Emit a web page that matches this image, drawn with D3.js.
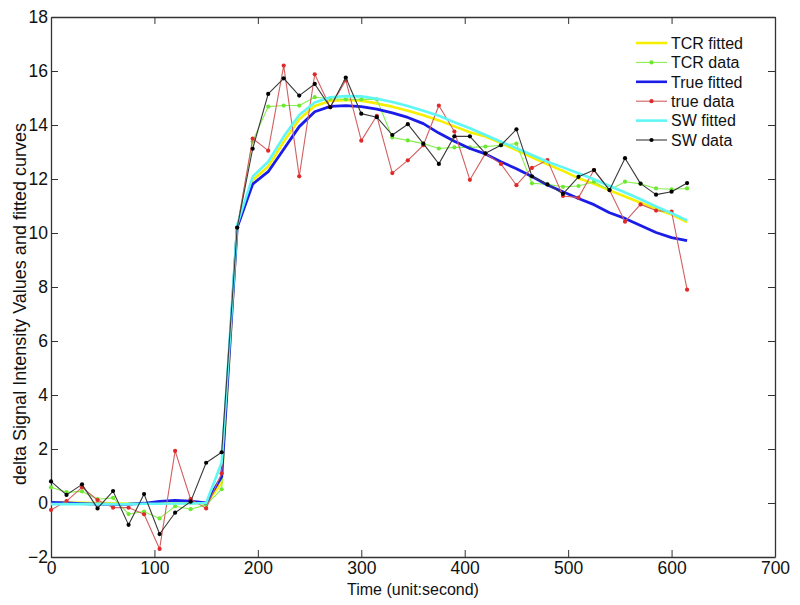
<!DOCTYPE html>
<html>
<head>
<meta charset="utf-8">
<script src="https://cdn.jsdelivr.net/npm/d3@7"></script>
<style>
  body { margin: 0; background: #fff; }
  svg { display: block; font-family: "Liberation Sans", Arial, Helvetica, sans-serif; }
</style>
</head>
<body>
<div id="chart"></div>
<script>
// sample times (s)
const times = [0, 15, 30, 45, 60, 75, 90, 105, 120, 135, 150, 165, 180, 195, 210, 225, 240, 255, 270, 285,
  300, 315, 330, 345, 360, 375, 390, 405, 420, 435, 450, 465, 480, 495, 510, 525, 540, 555, 570, 585, 600, 615];

const tcrFitted = [0.03, 0.02, 0.01, 0.0, -0.01, -0.02, -0.02, -0.01, 0.0, 0.0, -0.02, 0.75,
  10.25, 11.96, 12.46, 13.38, 14.21, 14.70, 14.89, 14.93, 14.90, 14.80, 14.68, 14.53, 14.36, 14.17,
  13.95, 13.73, 13.57, 13.33, 13.07, 12.80, 12.54, 12.30, 12.03, 11.82, 11.58, 11.35, 11.12, 10.90, 10.68, 10.40];
const tcrData = [0.58, 0.40, 0.43, 0.14, 0.19, -0.41, -0.32, -0.57, -0.12, -0.23, -0.07, 0.51,
  10.20, 13.40, 14.68, 14.72, 14.72, 15.03, 14.97, 14.95, 14.95, 14.95, 13.54, 13.43, 13.31, 13.13,
  13.17, 13.17, 13.20, 13.25, 13.31, 11.84, 11.80, 11.71, 11.74, 11.90, 11.59, 11.90, 11.82, 11.65, 11.62, 11.65];
const trueFitted = [0.02, 0.0, -0.02, -0.04, -0.05, -0.04, -0.01, 0.06, 0.10, 0.07, 0.0, 0.97,
  10.20, 11.81, 12.27, 13.10, 13.94, 14.49, 14.69, 14.72, 14.68, 14.59, 14.45, 14.28, 14.05, 13.70,
  13.40, 13.13, 12.93, 12.64, 12.38, 12.09, 11.78, 11.53, 11.28, 11.05, 10.75, 10.54, 10.28, 10.02, 9.83, 9.72];
const trueData = [-0.26, 0.07, 0.58, 0.11, -0.17, -0.17, -0.42, -1.70, 1.93, 0.14, -0.20, 1.10,
  10.20, 13.50, 13.05, 16.20, 12.10, 15.88, 14.66, 15.66, 13.42, 14.34, 12.22, 12.69, 13.25, 14.72,
  13.76, 11.97, 12.94, 12.56, 11.77, 12.41, 12.70, 11.37, 11.31, 12.33, 11.59, 10.42, 11.06, 10.83, 10.79, 7.90];
const swFitted = [-0.04, -0.04, -0.04, -0.04, -0.04, -0.04, -0.03, -0.03, -0.02, -0.02, 0.0, 1.50,
  10.30, 12.09, 12.64, 13.57, 14.37, 14.83, 15.03, 15.07, 15.06, 14.97, 14.85, 14.70, 14.53, 14.34,
  14.10, 13.88, 13.63, 13.38, 13.14, 12.89, 12.64, 12.43, 12.21, 11.99, 11.74, 11.50, 11.25, 10.98, 10.73, 10.47];
const swData = [0.80, 0.30, 0.69, -0.20, 0.44, -0.81, 0.33, -1.15, -0.36, 0.05, 1.49, 1.88,
  10.20, 13.12, 15.15, 15.73, 15.09, 15.52, 14.66, 15.76, 14.42, 14.29, 13.63, 14.03, 13.31, 12.56,
  13.58, 13.58, 12.95, 13.25, 13.84, 12.10, 11.80, 11.45, 12.08, 12.33, 11.59, 12.77, 11.83, 11.42, 11.53, 11.85];

const xTicks = [0, 100, 200, 300, 400, 500, 600, 700];
const yTicks = [-2, 0, 2, 4, 6, 8, 10, 12, 14, 16, 18];

const series = [
  { name: "TCR fitted", values: tcrFitted, line: "#f6f000", width: 2.6, marker: null },
  { name: "TCR data", values: tcrData, line: "#86f050", width: 1.1, marker: "#6ee830" },
  { name: "True fitted", values: trueFitted, line: "#1c1ce8", width: 2.8, marker: null },
  { name: "true data", values: trueData, line: "#d26060", width: 1.1, marker: "#e02a2a" },
  { name: "SW fitted", values: swFitted, line: "#5ff6f6", width: 2.6, marker: null },
  { name: "SW data", values: swData, line: "#3a3a3a", width: 1.1, marker: "#000" }
];

const W = 800, H = 605;
const svg = d3.select("#chart").append("svg")
    .attr("width", W)
    .attr("height", H);
svg.append("rect").attr("width", W).attr("height", H).attr("fill", "#fff");

const x = d3.scaleLinear().domain([0, 700]).range([51, 775]);
const y = d3.scaleLinear().domain([-2, 18]).range([557, 17]);

// axes, ticks pointing inward
const axisColor = "#333";
svg.append("g")
    .attr("transform", "translate(0," + y(-2) + ")")
    .call(d3.axisBottom(x).tickValues(xTicks).tickSizeInner(-7).tickSizeOuter(0).tickPadding(5));
svg.append("g")
    .attr("transform", "translate(" + x(0) + ",0)")
    .call(d3.axisLeft(y).tickValues(yTicks).tickSizeInner(-7).tickSizeOuter(0).tickPadding(3));
svg.append("g")
    .attr("transform", "translate(0," + y(18) + ")")
    .call(d3.axisTop(x).tickValues(xTicks).tickSizeInner(-7).tickSizeOuter(0).tickFormat(""));
svg.append("g")
    .attr("transform", "translate(" + x(700) + ",0)")
    .call(d3.axisRight(y).tickValues(yTicks).tickSizeInner(-7).tickSizeOuter(0).tickFormat(""));

svg.selectAll(".domain").attr("stroke", axisColor).attr("stroke-width", 1.3);
svg.selectAll(".tick line").attr("stroke", axisColor).attr("stroke-width", 1);
svg.selectAll(".tick text")
    .attr("fill", "#111")
    .style("font-size", "17.5px")
    .style("font-family", "'Liberation Sans', Arial, sans-serif");

// lines and markers
const line = d3.line()
    .x((d, i) => x(times[i]))
    .y(d => y(d));

series.forEach(s => {
  svg.append("path")
      .datum(s.values)
      .attr("fill", "none")
      .attr("stroke", s.line)
      .attr("stroke-width", s.width)
      .attr("stroke-linejoin", "round")
      .attr("d", line);
  if (s.marker) {
    svg.append("g").selectAll("circle")
      .data(s.values)
      .join("circle")
        .attr("cx", (d, i) => x(times[i]))
        .attr("cy", d => y(d))
        .attr("r", 2.1)
        .attr("fill", s.marker);
  }
});

// axis titles
svg.append("text")
    .attr("x", (x(0) + x(700)) / 2)
    .attr("y", 595)
    .attr("text-anchor", "middle")
    .style("font-size", "16px")
    .attr("fill", "#111")
    .text("Time (unit:second)");

svg.append("text")
    .attr("transform", "translate(26,304) rotate(-90)")
    .attr("text-anchor", "middle")
    .style("font-size", "18px")
    .attr("fill", "#111")
    .text("delta Signal Intensity Values and fitted curves");

// legend (no box)
const legend = svg.append("g").attr("transform", "translate(636,43)");
series.forEach((s, i) => {
  const g = legend.append("g").attr("transform", "translate(0," + (i * 19.4) + ")");
  g.append("line")
      .attr("x1", 0).attr("x2", 31)
      .attr("stroke", s.line)
      .attr("stroke-width", s.marker ? 1.1 : 2.6);
  if (s.marker) {
    g.append("circle").attr("cx", 15.5).attr("r", 2.1).attr("fill", s.marker);
  }
  g.append("text")
      .attr("x", 35)
      .attr("dy", "0.36em")
      .style("font-size", "16px")
      .attr("fill", "#111")
      .text(s.name);
});
</script>
</body>
</html>
